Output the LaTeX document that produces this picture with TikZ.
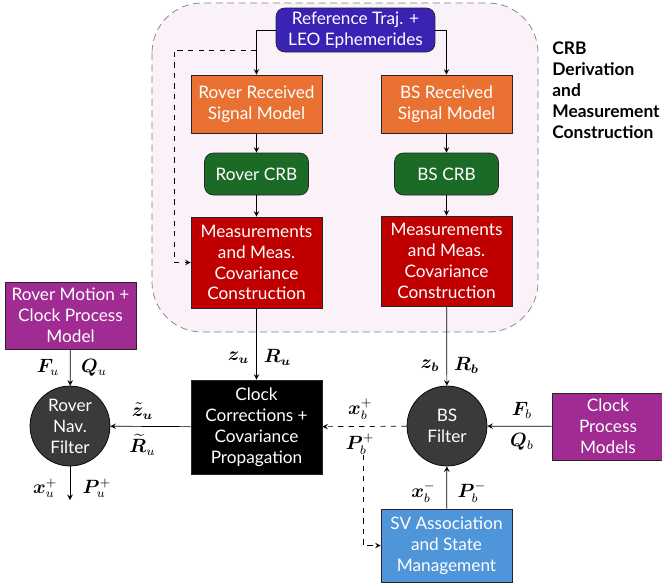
\documentclass[tikz,border=0pt]{standalone}
\usepackage{amsmath,amssymb,bm}
\usepackage{fontspec}
\setmainfont{Lato}
\usepackage{tikz}
\tikzset{node distance=1.6cm, auto, >=stealth}
\definecolor{refblue}{HTML}{3A22B4}
\definecolor{rxorange}{HTML}{E97132}
\definecolor{crbgreen}{HTML}{1B6B26}
\definecolor{measred}{HTML}{C00000}
\definecolor{procpurple}{HTML}{A02B93}
\definecolor{svblue}{HTML}{4E95D9}
\definecolor{filtgray}{HTML}{3A3A3A}
\definecolor{bgpink}{HTML}{FAF2F8}
\tikzset{
  blk/.style={draw=black!85, thin, text=white, align=center, inner sep=1pt,
    font=\fontsize{9.8}{11.9}\selectfont},
  rblk/.style={blk, rounded corners=5pt},
  filt/.style={circle, draw=black, thin, fill=filtgray, text=white, align=center,
    minimum size=1.6cm, inner sep=0pt, font=\fontsize{9.8}{11.9}\selectfont},
  lbl/.style={font=\fontsize{10.5}{12}\selectfont, inner sep=4pt}
}

\begin{document}
\begin{tikzpicture}[x=0.02cm, y=-0.02cm]
   \useasboundingbox (0,0) rectangle (662,586);
   \draw[gray, fill=bgpink, dash pattern=on 4pt off 2.5pt, rounded corners=1cm]
      (152,3) rectangle (538,332);
   \node[align=left, font=\bfseries\fontsize{9.9}{11.9}\selectfont, anchor=west, inner sep=0pt] (crb) at (552,90)
      {CRB\\Derivation\\and\\Measurement\\Construction};

   \node(1) [rblk, fill=refblue, minimum width=3.18cm, minimum height=0.88cm] at (355.5,30) {Reference Traj. +\\LEO Ephemerides};
   \node(2) [blk, fill=rxorange, minimum width=2.62cm, minimum height=1.16cm] at (256.5,104) {Rover Received\\Signal Model};
   \node(3) [blk, fill=rxorange, minimum width=2.62cm, minimum height=1.16cm] at (446.5,104) {BS Received\\Signal Model};
   \node(4) [rblk, fill=crbgreen, minimum width=2.08cm, minimum height=0.84cm] at (256.5,174) {Rover CRB};
   \node(5) [rblk, fill=crbgreen, minimum width=2.08cm, minimum height=0.84cm] at (446.5,174) {BS CRB};
   \node(6) [blk, fill=measred, minimum width=2.62cm, minimum height=1.82cm] at (256.5,262.5) {Measurements\\and Meas.\\Covariance\\Construction};
   \node(7) [blk, fill=measred, minimum width=2.62cm, minimum height=1.80cm] at (446.5,261) {Measurements\\and Meas.\\Covariance\\Construction};
   \node(8) [blk, fill=procpurple, minimum width=2.62cm, minimum height=1.34cm] at (70.5,315.5) {Rover Motion +\\Clock Process\\Model};
   \node(9) [filt] at (70,426) {Rover\\Nav.\\Filter};
   \node(10) [blk, fill=black, minimum width=2.62cm, minimum height=1.88cm] at (256.5,427) {Clock\\Corrections +\\Covariance\\Propagation};
   \node(11) [filt] at (447,426) {BS\\Filter};
   \node(12) [blk, fill=procpurple, minimum width=2.24cm, minimum height=1.34cm, text width=2.1cm] at (608,426.5) {Clock\\Process\\Models};
   \node(13) [blk, fill=svblue, minimum width=2.62cm, minimum height=1.46cm] at (446.5,545.5) {SV Association\\and State\\Management};
   \coordinate (d) at (256.5,50);
   \coordinate (e) at (363,455);
   \coordinate (o) at (70,500);

   \draw[->] (1.west) -| (2.north);
   \draw[->] (1.east) -| (3.north);
   \draw[->, dashed] (d) -- ++(-82.5,0) |- (6.west);
   \draw[->] (2) to (4);
   \draw[->] (3) to (5);
   \draw[->] (4) to (6);
   \draw[->] (5) to (7);
   \draw[->] (6) to node [lbl, pos=0.69, swap] {$\bm{z_u}$} node [lbl, pos=0.69] {$\bm{R_u}$} (10);
   \draw[->] (7) to node [lbl, pos=0.75, swap] {$\bm{z_b}$} node [lbl, pos=0.75] {$\bm{R_b}$} (11);
   \draw[->] (8) to node [lbl, pos=0.5, swap, inner sep=6pt] {$\bm{F}_u$} node [lbl, pos=0.5, inner sep=6pt] {$\bm{Q}_u$} (9);
   \draw[->] (10) to node [lbl, pos=0.6, swap] {$\tilde{\bm{z}}_{\bm{u}}$} node [lbl, pos=0.6] {$\widetilde{\bm{R}}_u$} (9);
   \draw[->, dashed] (11) to node [lbl, pos=0.55, swap] {$\bm{x}_b^+$} node [lbl, pos=0.55] {$\bm{P}_b^+$} (10);
   \draw[->, dashed] (e) |- (13.west);
   \draw[->] (12) to node [lbl, pos=0.46, swap] {$\bm{F}_b$} node [lbl, pos=0.46] {$\bm{Q}_b$} (11);
   \draw[->] (13) to node [lbl, pos=0.4, inner sep=6pt] {$\bm{x}_b^-$} node [lbl, pos=0.4, swap, inner sep=6pt] {$\bm{P}_b^-$} (11);
   \draw[->] (9) to node [lbl, pos=0.65, swap, inner sep=7pt] {$\bm{x}_u^+$} node [lbl, pos=0.65, inner sep=7pt] {$\bm{P}_u^+$} (o);
\end{tikzpicture}
\end{document}
